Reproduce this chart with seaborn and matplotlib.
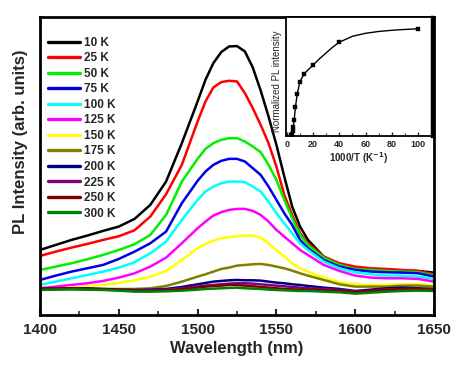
import pandas as pd
import matplotlib
matplotlib.use("Agg")
import matplotlib.pyplot as plt
from matplotlib.ticker import MultipleLocator
import seaborn as sns

# =====================================
# Data
# =====================================
wavelength = [1400, 1410, 1420, 1430, 1440, 1450, 1460, 1470, 1480, 1490,
              1500, 1505, 1510, 1515, 1520, 1525, 1530, 1535, 1540, 1545,
              1550, 1555, 1560, 1565, 1570, 1580, 1590, 1600, 1610, 1620,
              1630, 1640, 1650]

temps = ["10 K", "25 K", "50 K", "75 K", "100 K", "125 K", "150 K",
         "175 K", "200 K", "225 K", "250 K", "300 K"]

colors = ["#000000", "#ff0000", "#00f000", "#0000e6", "#00ffff", "#ff00ff",
          "#ffff00", "#808000", "#000080", "#800080", "#800000", "#008000"]

pl_10k = [195, 210, 225, 238, 252, 265, 288, 330, 400, 515, 640, 705, 755, 788,
          805, 806, 790, 742, 673, 595, 510, 415, 325, 265, 225, 175, 152, 142,
          137, 135, 133, 132, 127]
pl_25k = [177, 190, 202, 213, 225, 236, 254, 295, 362, 450, 580, 640, 682, 698,
          702, 700, 665, 620, 570, 515, 445, 360, 300, 245, 215, 175, 155, 145,
          140, 138, 135, 132, 122]
pl_50k = [135, 145, 155, 167, 180, 195, 212, 240, 300, 400, 468, 498, 515, 525,
          530, 530, 520, 505, 488, 450, 405, 345, 290, 240, 210, 172, 150, 138,
          135, 132, 130, 128, 118]
pl_75k = [105, 118, 130, 140, 150, 168, 190, 215, 250, 335, 402, 430, 450, 462,
          468, 468, 460, 440, 420, 385, 345, 305, 270, 225, 200, 165, 145, 135,
          130, 128, 127, 125, 115]
pl_100k = [90, 100, 110, 120, 130, 142, 158, 185, 220, 285, 345, 370, 385, 395,
           400, 400, 398, 385, 370, 340, 305, 275, 245, 215, 195, 160, 140, 128,
           122, 118, 118, 115, 108]
pl_125k = [80, 85, 90, 95, 102, 112, 125, 145, 172, 215, 260, 280, 298, 308,
           315, 318, 318, 312, 300, 280, 255, 235, 215, 195, 180, 150, 132, 118,
           112, 110, 110, 108, 100]
pl_150k = [75, 78, 82, 86, 90, 96, 104, 115, 132, 165, 200, 213, 223, 230,
           233, 236, 238, 238, 232, 215, 195, 175, 155, 140, 130, 112, 98, 92,
           90, 90, 92, 92, 90]
pl_175k = [78, 78, 78, 78, 78, 78, 78, 80, 87, 100, 115, 122, 130, 138,
           142, 148, 150, 152, 153, 150, 145, 140, 133, 125, 118, 105, 92, 85,
           85, 85, 88, 88, 85]
pl_200k = [80, 80, 80, 80, 78, 76, 75, 76, 78, 84, 92, 96, 100, 102,
           104, 105, 104, 104, 103, 100, 97, 95, 92, 90, 87, 82, 78, 72,
           76, 80, 82, 80, 78]
pl_225k = [78, 78, 78, 77, 76, 75, 74, 74, 76, 80, 85, 88, 90, 92,
           94, 95, 95, 94, 92, 90, 88, 86, 84, 82, 80, 78, 75, 70,
           73, 77, 78, 78, 76]
pl_250k = [80, 80, 80, 78, 77, 75, 73, 72, 74, 77, 82, 85, 87, 88,
           90, 90, 88, 86, 84, 82, 80, 78, 77, 76, 75, 74, 72, 68,
           72, 75, 77, 78, 76]
pl_300k = [75, 76, 77, 76, 75, 73, 70, 70, 71, 73, 76, 78, 79, 80,
           81, 82, 80, 79, 78, 76, 75, 74, 73, 72, 72, 70, 68, 64,
           67, 70, 72, 73, 72]

spectra = [pl_10k, pl_25k, pl_50k, pl_75k, pl_100k, pl_125k, pl_150k,
           pl_175k, pl_200k, pl_225k, pl_250k, pl_300k]

# inset: normalized integrated PL vs 1000/T
inv_t = [100, 40, 20, 13.33, 10, 8, 6.67, 5.71, 5, 4.44, 4, 3.33]
norm_pl = [1.0, 0.874, 0.659, 0.58, 0.502, 0.387, 0.266, 0.147, 0.078, 0.041,
           0.016, 0.004]
fit_x = [3.33, 4, 4.44, 5, 5.71, 6.67, 8, 10, 13.33, 20, 25, 30, 35, 40, 50,
         60, 70, 80, 90, 100]
fit_y = [0.004, 0.016, 0.041, 0.078, 0.147, 0.266, 0.387, 0.502, 0.58, 0.659,
         0.72, 0.774, 0.828, 0.874, 0.93, 0.958, 0.975, 0.986, 0.994, 1.0]

# =====================================
# Long table for seaborn
# =====================================
rows = []
for t, vals in zip(temps, spectra):
    for w, v in zip(wavelength, vals):
        rows.append({"Wavelength": w, "PL": v, "T": t})
df = pd.DataFrame(rows)

sns.set_style("white")
plt.rcParams["font.family"] = ["Liberation Sans", "DejaVu Sans"]

fig = plt.figure(figsize=(4.74, 3.79), dpi=100)
ax = fig.add_axes([0.0844, 0.1689, 0.8312, 0.7861])

sns.lineplot(data=df, x="Wavelength", y="PL", hue="T", hue_order=temps,
             palette=colors, linewidth=1.8, ax=ax, legend=True)

ax.set_xlim(1400, 1650)
ax.set_ylim(0, 893)
ax.set_yticks([])
ax.xaxis.set_major_locator(MultipleLocator(50))
ax.xaxis.set_minor_locator(MultipleLocator(25))
ax.tick_params(axis="x", which="major", direction="in", length=4, width=1.5,
               labelsize=11, pad=6, bottom=True)
ax.tick_params(axis="x", which="minor", direction="in", length=3, width=1.2,
               bottom=True)
for lab in ax.get_xticklabels():
    lab.set_fontweight("bold")
for sp in ax.spines.values():
    sp.set_linewidth(2)
    sp.set_color("black")

ax.set_xlabel("Wavelength (nm)", fontsize=12, fontweight="bold", labelpad=3)
ax.set_ylabel("PL Intensity (arb. units)", fontsize=12, fontweight="bold")
ax.yaxis.set_label_coords(-0.03, 0.58)

leg = ax.legend(loc="upper left", bbox_to_anchor=(0.0, 0.962), frameon=False,
                prop={"weight": "bold", "size": 8.5}, handlelength=2.7,
                handletextpad=0.3, labelspacing=0.3, borderaxespad=0.3)
for h in leg.get_lines():
    h.set_linewidth(2.4)

# =====================================
# Inset
# =====================================
ins = fig.add_axes([0.6034, 0.641, 0.308, 0.314])
sns.lineplot(x=fit_x, y=fit_y, color="black", linewidth=1.0, ax=ins)
sns.scatterplot(x=inv_t, y=norm_pl, marker="s", color="black", s=12,
                edgecolor="black", ax=ins, zorder=3)
ins.set_xlim(-0.5, 110.5)
ins.set_ylim(-0.005, 1.11)
ins.set_yticks([])
ins.xaxis.set_major_locator(MultipleLocator(20))
ins.xaxis.set_minor_locator(MultipleLocator(10))
ins.tick_params(axis="x", which="major", direction="in", length=3, width=1,
                labelsize=6.5, pad=3, bottom=True)
ins.tick_params(axis="x", which="minor", direction="in", length=2, width=0.8,
                bottom=True)
for lab in ins.get_xticklabels():
    lab.set_fontweight("bold")
for sp in ins.spines.values():
    sp.set_linewidth(1.3)
    sp.set_color("black")
ins.spines["right"].set_linewidth(2.5)
ins.set_xlabel("1000/T (K$^{\\mathbf{-1}}$)", fontsize=7, fontweight="bold",
               labelpad=1)
ins.set_ylabel("Normalized PL intensity", fontsize=7, labelpad=2)
ins.yaxis.set_label_coords(-0.03, 0.46)

plt.savefig("out.png", dpi=100)
plt.close()
